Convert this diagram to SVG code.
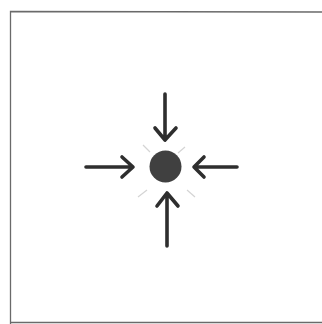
<svg xmlns="http://www.w3.org/2000/svg" width="322" height="324" viewBox="0 0 322 324">
<style>
.frame{fill:none;stroke:#6a6a6a;stroke-width:1.3}
.arr{fill:none;stroke:#2e2e2e;stroke-width:3.6;stroke-linecap:round;stroke-linejoin:round}
.ray{stroke:#d4d4d4;stroke-width:1.2}
</style>
<rect width="322" height="324" fill="#ffffff"/>
<path class="frame" d="M10.5 324 L10.5 11.5 L322 12 M11 322.5 L322 322.5"/>
<g id="center">
<circle cx="165.5" cy="166.5" r="16" fill="#404040"/>
<line class="ray" x1="143" y1="145" x2="150" y2="152"/>
<line class="ray" x1="185" y1="147" x2="178" y2="153"/>
<line class="ray" x1="138" y1="197" x2="147" y2="190"/>
<line class="ray" x1="195" y1="197" x2="187" y2="190"/>
</g>
<g id="connectors">
<path class="arr" d="M165 94 L165 139 M155 128 L165 140 L176 128"/>
<path class="arr" d="M167 246 L167 194 M157 206 L167 193 L178 206"/>
<path class="arr" d="M86 167 L132 167 M122 157 L133 167 L122 177"/>
<path class="arr" d="M237 167 L195 167 M204 157 L194 167 L204 177"/>
</g>
</svg>
